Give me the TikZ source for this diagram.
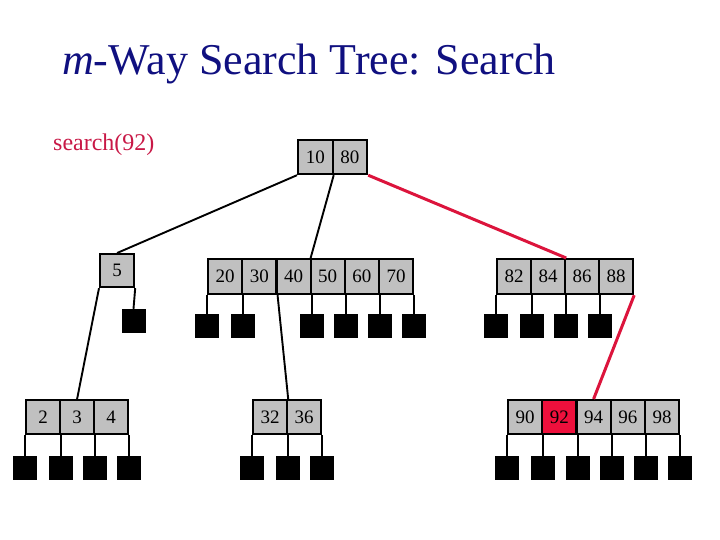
\documentclass[tikz,border=0pt]{standalone}
\usepackage{fontspec}
\setmainfont{Liberation Serif}
\usetikzlibrary{calc}
\definecolor{navytitle}{RGB}{16,16,128}
\definecolor{hot}{RGB}{220,20,60}
\definecolor{hottext}{RGB}{200,24,70}
\definecolor{hotfill}{RGB}{238,16,60}
\definecolor{cellgray}{RGB}{192,192,192}
\tikzset{
  cell/.style={draw=black, line width=2.2pt, fill=cellgray, inner sep=0pt,
    minimum width=34.2pt, minimum height=34pt, anchor=north west,
    font=\fontsize{19}{19}\selectfont},
  ext/.style={fill=black, inner sep=0pt, minimum size=24pt},
  link/.style={line width=1.9pt, black},
  hotlink/.style={line width=3pt, hot},
}
\begin{document}
\begin{tikzpicture}[x=1pt,y=-1pt]
\useasboundingbox (0,0) rectangle (720,540);
% title and label
\node[anchor=base west, inner sep=0pt, text=navytitle, font=\fontsize{44}{44}\selectfont] (title) at (62,75) {\textit{m}-Way Search Tree: Search};
\node[anchor=base west, inner sep=0pt, text=hottext, font=\fontsize{24}{24}\selectfont] (query) at (53,151) {search(92)};
% root
\foreach \t [count=\i] in {10,80}
  \node[cell, minimum width=34.5pt] (R\i) at ({297+(\i-1)*34.5},139) {\t};
% node 5
\node[cell, minimum width=34pt, minimum height=33pt] (A1) at (99,253) {5};
% node 20..70
\foreach \t [count=\i] in {20,30,40,50,60,70}
  \node[cell, minimum height=35pt] (B\i) at ({207+(\i-1)*34.17},258) {\t};
% node 82..88
\foreach \t [count=\i] in {82,84,86,88}
  \node[cell, minimum width=34pt, minimum height=35pt] (C\i) at ({496+(\i-1)*34},258) {\t};
% node 2 3 4
\foreach \t [count=\i] in {2,3,4}
  \node[cell, minimum width=34pt] (D\i) at ({25+(\i-1)*34},399) {\t};
% node 32 36
\foreach \t [count=\i] in {32,36}
  \node[cell, minimum width=34pt] (E\i) at ({252+(\i-1)*34},399) {\t};
% node 90..98
\foreach \t/\f [count=\i] in {90/cellgray,92/hotfill,94/cellgray,96/cellgray,98/cellgray}
  \node[cell, fill=\f] (F\i) at ({507+(\i-1)*34.2},399) {\t};
% coordinates for node tops
\coordinate (Atop) at (A1.north);
\coordinate (Btop) at ($(B1.north west)!0.5!(B6.north east)$);
\coordinate (Ctop) at (C2.north east);
\coordinate (Dtop) at (D2.north);
\coordinate (Etop) at (E1.north east);
\coordinate (Ftop) at (F3.north);
% tree links
\draw[link] (R1.south west) -- (Atop);
\draw[link] (R1.south east) -- (Btop);
\draw[hotlink] (R2.south east) -- (Ctop);
\draw[link] (A1.south west) -- (Dtop);
\draw[link] (B2.south east) -- (Etop);
\draw[hotlink] (C4.south east) -- (Ftop);
% external nodes of node 5
\node[ext] (xa) at (133.5,321) {};
\draw[link] (A1.south east) -- (xa.north);
% external nodes of node B
\node[ext] (xb0) at (B1.south west |- 0,326) {};
\draw[link] (B1.south west) -- (xb0.north);
\foreach \i in {1,3,4,5,6} {
  \node[ext] (xb\i) at (B\i.south east |- 0,326) {};
  \draw[link] (B\i.south east) -- (xb\i.north);
}
% external nodes of node C
\node[ext] (xc0) at (C1.south west |- 0,326) {};
\draw[link] (C1.south west) -- (xc0.north);
\foreach \i in {1,2,3} {
  \node[ext] (xc\i) at (C\i.south east |- 0,326) {};
  \draw[link] (C\i.south east) -- (xc\i.north);
}
% external nodes of node D
\node[ext] (xd0) at (D1.south west |- 0,468) {};
\draw[link] (D1.south west) -- (xd0.north);
\foreach \i in {1,2,3} {
  \node[ext] (xd\i) at (D\i.south east |- 0,468) {};
  \draw[link] (D\i.south east) -- (xd\i.north);
}
% external nodes of node E
\node[ext] (xe0) at (E1.south west |- 0,468) {};
\draw[link] (E1.south west) -- (xe0.north);
\foreach \i in {1,2} {
  \node[ext] (xe\i) at (E\i.south east |- 0,468) {};
  \draw[link] (E\i.south east) -- (xe\i.north);
}
% external nodes of node F
\node[ext] (xf0) at (F1.south west |- 0,468) {};
\draw[link] (F1.south west) -- (xf0.north);
\foreach \i in {1,2,3,4,5} {
  \node[ext] (xf\i) at (F\i.south east |- 0,468) {};
  \draw[link] (F\i.south east) -- (xf\i.north);
}
\end{tikzpicture}
\end{document}
